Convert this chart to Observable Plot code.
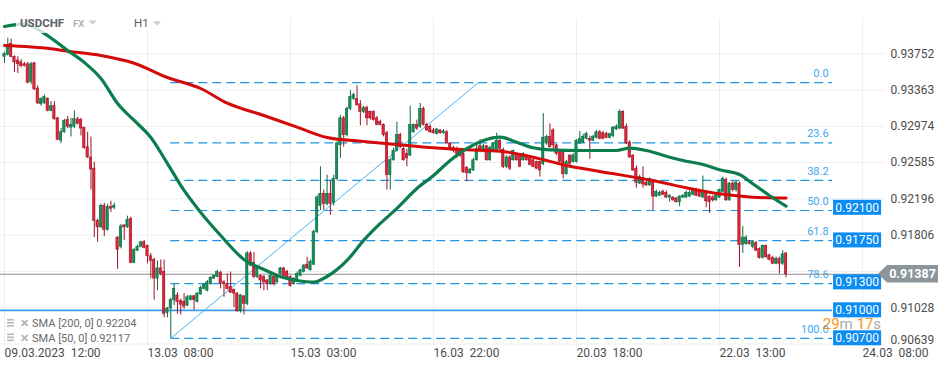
<!DOCTYPE html>
<html><head><meta charset="utf-8">
<script src="https://cdn.jsdelivr.net/npm/d3@7"></script>
<script src="https://cdn.jsdelivr.net/npm/@observablehq/plot@0.6"></script>
<style>
body{margin:0;background:#fff;}
#chart{width:949px;height:370px;}
</style></head><body><div id="chart"></div>
<script>
// ---- data (USDCHF, H1 candles, index = bar number) ----
const symbol = "USDCHF", market = "FX", timeframe = "H1";
const open = [0.9372,0.9374,0.9386,0.9372,0.9368,0.9366,0.9364,0.9364,0.9345,0.9365,
0.9338,0.9321,0.9322,0.9327,0.9314,0.9319,0.9306,0.9282,0.9291,0.9304,
0.9296,0.9297,0.9305,0.9304,0.9296,0.9275,0.9264,0.9252,0.9196,0.9189,
0.9212,0.9186,0.9211,0.9210,0.9178,0.9168,0.9191,0.9189,0.9198,0.9151,
0.9164,0.9168,0.9173,0.9169,0.9158,0.9154,0.9134,0.9145,0.9141,0.9097,
0.9102,0.9111,0.9116,0.9110,0.9109,0.9105,0.9111,0.9115,0.9109,0.9117,
0.9123,0.9121,0.9128,0.9134,0.9136,0.9140,0.9130,0.9128,0.9125,0.9122,
0.9118,0.9099,0.9115,0.9107,0.9161,0.9151,0.9136,0.9137,0.9136,0.9132,
0.9128,0.9136,0.9130,0.9139,0.9145,0.9141,0.9136,0.9128,0.9131,0.9137,
0.9141,0.9149,0.9143,0.9149,0.9184,0.9212,0.9225,0.9214,0.9225,0.9215,
0.9241,0.9277,0.9306,0.9288,0.9316,0.9327,0.9327,0.9321,0.9313,0.9317,
0.9313,0.9313,0.9306,0.9302,0.9299,0.9290,0.9245,0.9261,0.9271,0.9288,
0.9273,0.9268,0.9266,0.9291,0.9299,0.9297,0.9316,0.9299,0.9297,0.9293,
0.9289,0.9293,0.9290,0.9291,0.9279,0.9274,0.9273,0.9271,0.9268,0.9253,
0.9247,0.9250,0.9261,0.9276,0.9271,0.9276,0.9261,0.9271,0.9271,0.9282,
0.9272,0.9254,0.9264,0.9261,0.9268,0.9266,0.9261,0.9266,0.9263,0.9261,
0.9259,0.9259,0.9257,0.9279,0.9286,0.9293,0.9277,0.9271,0.9270,0.9246,
0.9266,0.9259,0.9259,0.9279,0.9280,0.9284,0.9284,0.9282,0.9285,0.9291,
0.9290,0.9289,0.9285,0.9287,0.9294,0.9295,0.9313,0.9297,0.9280,0.9266,
0.9252,0.9236,0.9242,0.9237,0.9234,0.9237,0.9222,0.9223,0.9227,0.9226,
0.9221,0.9221,0.9220,0.9216,0.9221,0.9221,0.9222,0.9224,0.9229,0.9228,
0.9221,0.9226,0.9222,0.9221,0.9218,0.9221,0.9227,0.9240,0.9218,0.9236,
0.9229,0.9236,0.9170,0.9171,0.9173,0.9168,0.9172,0.9166,0.9156,0.9169,
0.9159,0.9156,0.9150,0.9155,0.9150,0.9161];
const high = [0.9377,0.9392,0.9391,0.9373,0.9372,0.9369,0.9366,0.9366,0.9366,0.9366,
0.9341,0.9328,0.9331,0.9328,0.9324,0.9324,0.9307,0.9295,0.9305,0.9308,
0.9306,0.9314,0.9307,0.9306,0.9296,0.9291,0.9286,0.9259,0.9198,0.9214,
0.9215,0.9214,0.9217,0.9215,0.9179,0.9192,0.9192,0.9201,0.9200,0.9166,
0.9170,0.9174,0.9175,0.9170,0.9161,0.9156,0.9153,0.9154,0.9154,0.9103,
0.9113,0.9128,0.9119,0.9112,0.9118,0.9116,0.9116,0.9116,0.9119,0.9126,
0.9128,0.9132,0.9136,0.9138,0.9143,0.9142,0.9132,0.9139,0.9141,0.9123,
0.9119,0.9117,0.9116,0.9163,0.9163,0.9162,0.9148,0.9138,0.9137,0.9133,
0.9138,0.9137,0.9137,0.9146,0.9146,0.9143,0.9137,0.9135,0.9141,0.9144,
0.9149,0.9157,0.9154,0.9186,0.9223,0.9254,0.9229,0.9245,0.9239,0.9245,
0.9281,0.9309,0.9308,0.9318,0.9336,0.9333,0.9341,0.9325,0.9319,0.9319,
0.9314,0.9314,0.9308,0.9304,0.9300,0.9292,0.9263,0.9274,0.9302,0.9290,
0.9275,0.9273,0.9319,0.9300,0.9304,0.9322,0.9318,0.9301,0.9299,0.9295,
0.9295,0.9294,0.9294,0.9293,0.9280,0.9276,0.9275,0.9272,0.9269,0.9254,
0.9252,0.9263,0.9279,0.9283,0.9278,0.9277,0.9276,0.9280,0.9290,0.9283,
0.9274,0.9266,0.9266,0.9272,0.9269,0.9267,0.9269,0.9267,0.9264,0.9262,
0.9260,0.9260,0.9311,0.9288,0.9300,0.9295,0.9278,0.9272,0.9271,0.9261,
0.9267,0.9268,0.9283,0.9292,0.9289,0.9291,0.9287,0.9288,0.9293,0.9293,
0.9292,0.9291,0.9290,0.9297,0.9299,0.9315,0.9314,0.9300,0.9282,0.9267,
0.9255,0.9245,0.9254,0.9239,0.9242,0.9239,0.9229,0.9228,0.9229,0.9228,
0.9224,0.9222,0.9221,0.9223,0.9224,0.9228,0.9228,0.9231,0.9231,0.9230,
0.9244,0.9228,0.9223,0.9223,0.9224,0.9230,0.9243,0.9242,0.9237,0.9238,
0.9239,0.9238,0.9190,0.9180,0.9175,0.9175,0.9174,0.9167,0.9170,0.9170,
0.9160,0.9158,0.9157,0.9157,0.9164,0.9162];
const low = [0.9365,0.9373,0.9371,0.9355,0.9354,0.9360,0.9361,0.9343,0.9342,0.9336,
0.9321,0.9319,0.9321,0.9313,0.9313,0.9304,0.9282,0.9279,0.9290,0.9295,
0.9286,0.9295,0.9299,0.9287,0.9273,0.9263,0.9229,0.9178,0.9173,0.9188,
0.9179,0.9185,0.9205,0.9208,0.9144,0.9166,0.9175,0.9188,0.9150,0.9150,
0.9163,0.9167,0.9166,0.9150,0.9134,0.9111,0.9121,0.9137,0.9092,0.9092,
0.9070,0.9105,0.9096,0.9095,0.9101,0.9104,0.9110,0.9100,0.9108,0.9116,
0.9122,0.9120,0.9127,0.9133,0.9135,0.9123,0.9114,0.9122,0.9118,0.9103,
0.9098,0.9097,0.9095,0.9105,0.9147,0.9134,0.9134,0.9123,0.9121,0.9121,
0.9127,0.9126,0.9129,0.9138,0.9136,0.9134,0.9125,0.9127,0.9130,0.9136,
0.9140,0.9144,0.9142,0.9148,0.9182,0.9207,0.9207,0.9212,0.9202,0.9212,
0.9239,0.9263,0.9275,0.9286,0.9314,0.9325,0.9319,0.9298,0.9311,0.9298,
0.9304,0.9303,0.9298,0.9298,0.9286,0.9229,0.9229,0.9260,0.9270,0.9274,
0.9260,0.9254,0.9265,0.9290,0.9293,0.9295,0.9298,0.9292,0.9290,0.9289,
0.9288,0.9289,0.9289,0.9278,0.9271,0.9269,0.9263,0.9264,0.9247,0.9238,
0.9246,0.9249,0.9260,0.9269,0.9269,0.9260,0.9260,0.9270,0.9269,0.9271,
0.9252,0.9252,0.9250,0.9260,0.9260,0.9253,0.9260,0.9260,0.9255,0.9253,
0.9251,0.9243,0.9255,0.9277,0.9274,0.9272,0.9266,0.9258,0.9241,0.9245,
0.9255,0.9258,0.9258,0.9278,0.9279,0.9283,0.9262,0.9281,0.9284,0.9283,
0.9283,0.9284,0.9284,0.9285,0.9293,0.9294,0.9294,0.9278,0.9263,0.9249,
0.9231,0.9235,0.9231,0.9233,0.9233,0.9207,0.9221,0.9222,0.9223,0.9220,
0.9216,0.9217,0.9215,0.9211,0.9220,0.9220,0.9221,0.9223,0.9222,0.9221,
0.9220,0.9210,0.9204,0.9216,0.9217,0.9220,0.9226,0.9217,0.9217,0.9227,
0.9227,0.9146,0.9161,0.9170,0.9170,0.9166,0.9163,0.9155,0.9155,0.9156,
0.9153,0.9149,0.9149,0.9139,0.9148,0.9135];
const close = [0.9375,0.9385,0.9372,0.9366,0.9364,0.9362,0.9362,0.9344,0.9364,0.9337,
0.9322,0.9327,0.9329,0.9314,0.9319,0.9305,0.9283,0.9291,0.9303,0.9297,
0.9299,0.9305,0.9300,0.9295,0.9274,0.9264,0.9251,0.9196,0.9189,0.9212,
0.9186,0.9211,0.9209,0.9212,0.9165,0.9190,0.9189,0.9197,0.9151,0.9165,
0.9168,0.9173,0.9167,0.9158,0.9153,0.9134,0.9145,0.9139,0.9096,0.9102,
0.9111,0.9123,0.9109,0.9106,0.9104,0.9114,0.9115,0.9111,0.9118,0.9124,
0.9127,0.9130,0.9135,0.9137,0.9141,0.9129,0.9128,0.9123,0.9119,0.9118,
0.9099,0.9116,0.9107,0.9161,0.9148,0.9136,0.9146,0.9132,0.9130,0.9128,
0.9137,0.9128,0.9136,0.9145,0.9137,0.9136,0.9126,0.9134,0.9139,0.9143,
0.9148,0.9145,0.9152,0.9184,0.9221,0.9225,0.9214,0.9225,0.9214,0.9241,
0.9279,0.9306,0.9288,0.9316,0.9329,0.9331,0.9320,0.9313,0.9317,0.9306,
0.9306,0.9304,0.9299,0.9299,0.9288,0.9245,0.9261,0.9271,0.9288,0.9275,
0.9261,0.9263,0.9299,0.9299,0.9295,0.9316,0.9299,0.9293,0.9291,0.9290,
0.9294,0.9290,0.9292,0.9279,0.9272,0.9271,0.9268,0.9266,0.9248,0.9247,
0.9251,0.9261,0.9273,0.9271,0.9276,0.9261,0.9274,0.9279,0.9282,0.9273,
0.9254,0.9264,0.9252,0.9271,0.9261,0.9254,0.9268,0.9261,0.9256,0.9254,
0.9252,0.9250,0.9285,0.9286,0.9275,0.9277,0.9268,0.9259,0.9246,0.9259,
0.9257,0.9266,0.9282,0.9284,0.9286,0.9289,0.9282,0.9286,0.9291,0.9284,
0.9284,0.9285,0.9289,0.9296,0.9297,0.9313,0.9295,0.9279,0.9264,0.9250,
0.9237,0.9243,0.9235,0.9234,0.9241,0.9222,0.9227,0.9226,0.9224,0.9221,
0.9223,0.9218,0.9216,0.9222,0.9223,0.9226,0.9226,0.9229,0.9223,0.9222,
0.9227,0.9217,0.9216,0.9218,0.9223,0.9229,0.9241,0.9218,0.9236,0.9229,
0.9237,0.9170,0.9178,0.9178,0.9171,0.9173,0.9164,0.9156,0.9169,0.9157,
0.9154,0.9150,0.9155,0.9150,0.9160,0.91387];

const sma200Idx = [0,14,19,29,39,49,59,67,78,88,97,108,118,129,139,149,159,169,179,195,205,215,225,235];
const sma200Val = [0.93841,0.93806,0.93780,0.93734,0.93651,0.93498,0.93380,0.93222,0.93090,0.92965,0.92854,0.92812,0.92779,0.92744,0.92722,0.92707,0.92643,0.92554,0.92490,0.92393,0.92315,0.92250,0.92214,0.92204];
const sma50Idx = [0,6,12,19,24,29,34,39,44,49,54,59,65,72,78,82,88,93,97,103,108,113,118,124,129,134,139,144,149,154,159,164,174,184,188,193,200,205,210,215,221,225,230,235];
const sma50Val = [0.94045,0.94074,0.93970,0.93788,0.93659,0.93487,0.93219,0.93037,0.92854,0.92575,0.92286,0.92050,0.91803,0.91546,0.91438,0.91374,0.91320,0.91302,0.91363,0.91535,0.91750,0.91932,0.92093,0.92307,0.92447,0.92608,0.92736,0.92822,0.92858,0.92804,0.92744,0.92722,0.92715,0.92715,0.92740,0.92715,0.92643,0.92600,0.92565,0.92508,0.92458,0.92358,0.92232,0.92117];
const smaLegend = ["SMA [200, 0] 0.92204", "SMA [50, 0] 0.92117"];

const fibNames = ["0.0","23.6","38.2","50.0","61.8","78.6","100.0"];
const fibLevels = [0.93443,0.92796,0.92395,0.92071,0.91748,0.91287,0.90700];
const fibStartIdx = 50, fibEndIdx = 249;
const trendIdx = [50, 142.5];
const trendVal = [0.90700, 0.93443];
const hLine = 0.91000;
const tagPrices = [0.92100, 0.91750, 0.91300, 0.91000, 0.90700];
const lastPrice = 0.91387;
const countdown = [["29","o"],["m","g"],[" 17","o"],["s","g"]];

const yGrid = [0.93752,0.93363,0.92974,0.92585,0.92196,0.91806,0.91417,0.91028,0.90639];
const yLabels = [0.93752,0.93363,0.92974,0.92585,0.92196,0.91806,0.91028];
const yBottomLabel = 0.90639;
const xTickIdx = [0,43,86,129,172,215,258];
const xTickLabels = ["09.03.2023\u00a0\u00a012:00","13.03\u00a0\u00a008:00","15.03\u00a0\u00a003:00","16.03\u00a0\u00a022:00","20.03\u00a0\u00a018:00","22.03\u00a0\u00a013:00","24.03\u00a0\u00a008:00"];

// ---- build ----
const candles = open.map((o, i) => ({i, o, h: high[i], l: low[i], c: close[i]}));
const up = d => d.c >= d.o;
const GREEN = "#16905a", GREEN_D = "#0b6a40", RED = "#e1263b", RED_D = "#9f1222";
const xDomain = [-1.203, 264.91];
const fmt5 = d3.format(".5f");

const chart = Plot.plot({
  width: 949, height: 370,
  marginLeft: 0, marginRight: 64, marginTop: 18, marginBottom: 24,
  x: {domain: xDomain, label: null},
  y: {domain: [0.90612, 0.94131], label: null},
  style: {fontFamily: "Roboto, sans-serif", fontSize: "12px", color: "#4d4d4d", background: "#fff", overflow: "visible"},
  marks: [
    Plot.ruleY(yGrid, {stroke: "#eeeeee"}),
    Plot.ruleX(xTickIdx, {stroke: "#eeeeee"}),
    Plot.axisY({anchor: "right", ticks: yLabels, tickSize: 0, tickPadding: 5, tickFormat: fmt5, fontSize: 12}),
    Plot.axisY({anchor: "right", ticks: [yBottomLabel], tickSize: 0, tickPadding: 5, tickFormat: fmt5, fontSize: 12, dy: -4}),
    Plot.axisX({anchor: "bottom", ticks: xTickIdx, tickSize: 0, tickPadding: 1.5, textAnchor: "start", fontSize: 12,
      tickFormat: d => xTickLabels[xTickIdx.indexOf(d)]}),
    Plot.ruleY(fibLevels, {x1: fibStartIdx, x2: fibEndIdx, stroke: "#1f95e6", strokeWidth: 1.2, strokeDasharray: "9,5"}),
    Plot.text(fibLevels, {x: fibEndIdx, y: d => d, text: (d, i) => fibNames[i], dx: -4, dy: -9, textAnchor: "end", fill: "#3ea8f2", fontSize: 11}),
    Plot.ruleY([hLine], {x1: xDomain[0], x2: fibEndIdx, stroke: "#3a9df0", strokeWidth: 1.6}),
    Plot.line(trendIdx.map((x, i) => [x, trendVal[i]]), {stroke: "#45b3f6", strokeWidth: 1}),
    Plot.ruleY([lastPrice], {stroke: "#8c8c8c", strokeWidth: 1}),
    Plot.ruleX(candles, {x: "i", y1: "l", y2: "h", stroke: d => up(d) ? GREEN_D : RED_D, strokeWidth: 1}),
    Plot.rect(candles, {x1: d => d.i - 0.35, x2: d => d.i + 0.35, y1: "o", y2: "c",
      fill: d => up(d) ? GREEN : RED, stroke: d => up(d) ? GREEN_D : RED_D, strokeWidth: 0.6}),
    Plot.line(sma200Idx.map((x, i) => [x, sma200Val[i]]), {stroke: "#d40a0a", strokeWidth: 3, curve: "monotone-x"}),
    Plot.line(sma50Idx.map((x, i) => [x, sma50Val[i]]), {stroke: "#0c7d4d", strokeWidth: 3.2, curve: "monotone-x"})
  ]
});
document.getElementById("chart").appendChild(chart);

// ---- overlays positioned through the plot's scales ----
const X = v => chart.scale("x").apply(v), Y = v => chart.scale("y").apply(v);
const svg = d3.select(chart);
const g = svg.append("g").attr("font-family", "Roboto, sans-serif").attr("text-anchor", "start");

// header
g.append("rect").attr("x", 16).attr("y", 12).attr("width", 152).attr("height", 21).attr("fill", "#fff").attr("fill-opacity", 0.78);
g.append("text").attr("x", 20).attr("y", 27.3).attr("font-size", 11.5).attr("font-weight", "bold").attr("fill", "#596068").text(symbol);
g.append("text").attr("x", 73).attr("y", 27.3).attr("font-size", 9.5).attr("font-weight", "bold").attr("fill", "#aab2ba").text(market);
g.append("path").attr("d", "M88.5,20.5 L96.5,20.5 L92.5,24.5 Z").attr("fill", "#c6ccd2");
g.append("text").attr("x", 134).attr("y", 27.3).attr("font-size", 11.5).attr("fill", "#596068").text(timeframe);
g.append("path").attr("d", "M153,21.5 L161,21.5 L157,25.5 Z").attr("fill", "#c6ccd2");

// price tags
const tagX = X(fibEndIdx) + 1;
tagPrices.forEach(p => {
  const y = Y(p);
  g.append("rect").attr("x", tagX).attr("y", y - 7.5).attr("width", 48).attr("height", 15).attr("fill", "#0a8cf3");
  g.append("text").attr("x", tagX + 24).attr("y", y).attr("dy", "0.36em").attr("text-anchor", "middle")
    .attr("fill", "#fff").attr("font-size", 12).text(fmt5(p));
});

// current price tag
const yc = Y(lastPrice);
g.append("path").attr("d", `M878,${yc} L887,${yc - 8.7} L938,${yc - 8.7} L938,${yc + 8.7} L887,${yc + 8.7} Z`).attr("fill", "#8c959a");
g.append("text").attr("x", 912.5).attr("y", yc).attr("dy", "0.36em").attr("text-anchor", "middle")
  .attr("fill", "#fff").attr("font-size", 12.5).attr("font-weight", "bold").text(fmt5(lastPrice));

// countdown
const cd = g.append("text").attr("x", tagX + 48).attr("y", Y(tagPrices[4]) - 8.5).attr("text-anchor", "end").attr("font-size", 15).style("white-space", "pre");
countdown.forEach(([t, c]) => cd.append("tspan").attr("fill", c === "o" ? "#f7941d" : "#a9a9a9").text(t));

// SMA legend
smaLegend.forEach((t, k) => {
  const yb = 327 + k * 14.5;
  const gi = g.append("g").attr("fill", "#b9b9b9");
  gi.append("rect").attr("x", 7).attr("y", yb - 8).attr("width", 7).attr("height", 1.6);
  gi.append("rect").attr("x", 7).attr("y", yb - 5).attr("width", 7).attr("height", 1.6);
  gi.append("rect").attr("x", 7).attr("y", yb - 2).attr("width", 7).attr("height", 1.6);
  g.append("text").attr("x", 20).attr("y", yb).attr("font-size", 11).attr("font-weight", "bold").attr("fill", "#b3b3b3").text("\u2715");
  g.append("text").attr("x", 32).attr("y", yb).attr("font-size", 11).attr("fill", "#6a6a6a").text(t);
});
</script>
</body></html>
